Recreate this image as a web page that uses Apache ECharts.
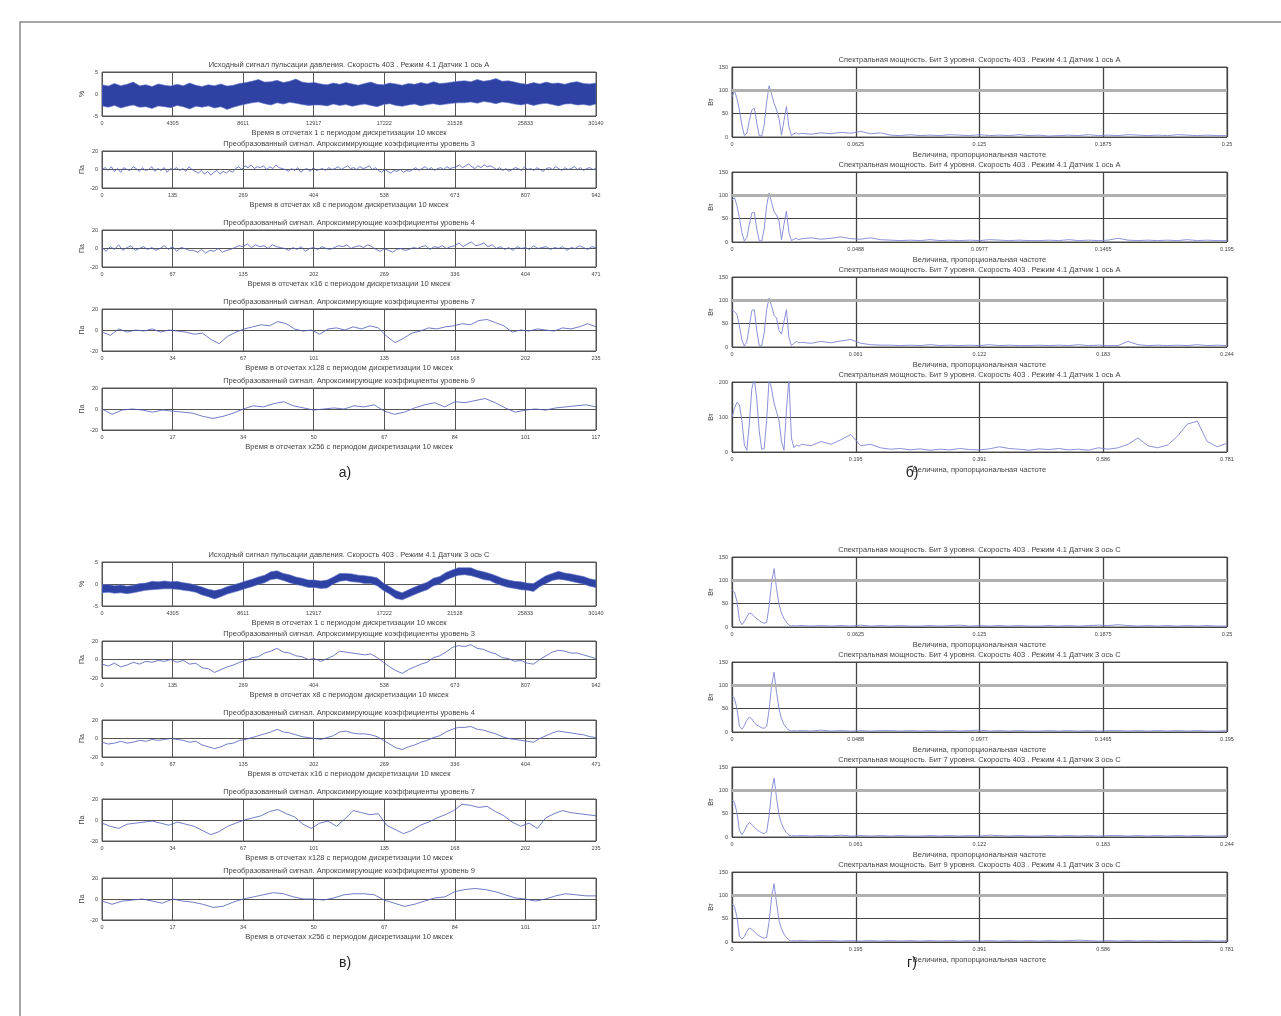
<!DOCTYPE html>
<html><head><meta charset="utf-8">
<script src="https://cdn.jsdelivr.net/npm/echarts@6/dist/echarts.min.js"></script>
<style>html,body{margin:0;padding:0;background:#fff}#c{width:1281px;height:1016px}</style>
</head><body><div id="c"></div>
<script>
// ---------- tick labels ----------
const ticksSignal = ['0','4305','8611','12917','17222','21528','25833','30140'];
const ticksLev3 = ['0','135','269','404','538','673','807','942'];
const ticksLev4 = ['0','67','135','202','269','336','404','471'];
const ticksLev7 = ['0','34','67','101','135','168','202','235'];
const ticksLev9 = ['0','17','34','50','67','84','101','117'];
const ticksSigY = ['-5','0','5'];
const ticksLevY = ['-20','0','20'];
const ticksSpec1 = ['0','0.0625','0.125','0.1875','0.25'];
const ticksSpec2 = ['0','0.0488','0.0977','0.1465','0.195'];
const ticksSpec3 = ['0','0.061','0.122','0.183','0.244'];
const ticksSpec4 = ['0','0.195','0.391','0.586','0.781'];
const ticksPowY = ['0','50','100','150'];
const ticksPowY4 = ['0','100','200'];

// ---------- texts ----------
const titlesA = [
 'Исходный сигнал пульсации давления. Скорость 403 . Режим 4.1 Датчик 1 ось А',
 'Преобразованный сигнал. Апроксимирующие коэффициенты уровень 3',
 'Преобразованный сигнал. Апроксимирующие коэффициенты уровень 4',
 'Преобразованный сигнал. Апроксимирующие коэффициенты уровень 7',
 'Преобразованный сигнал. Апроксимирующие коэффициенты уровень 9'];
const titlesV = [
 'Исходный сигнал пульсации давления. Скорость 403 . Режим 4.1 Датчик 3 ось С',
 'Преобразованный сигнал. Апроксимирующие коэффициенты уровень 3',
 'Преобразованный сигнал. Апроксимирующие коэффициенты уровень 4',
 'Преобразованный сигнал. Апроксимирующие коэффициенты уровень 7',
 'Преобразованный сигнал. Апроксимирующие коэффициенты уровень 9'];
const timeNames = [
 'Время в отсчетах 1 с периодом дискретизации 10 мксек',
 'Время в отсчетах х8 с периодом дискретизации 10 мксек',
 'Время в отсчетах х16 с периодом дискретизации 10 мксек',
 'Время в отсчетах х128 с периодом дискретизации 10 мксек',
 'Время в отсчетах х256 с периодом дискретизации 10 мксек'];
const titlesB = [
 'Спектральная мощность. Бит 3 уровня. Скорость 403 . Режим 4.1 Датчик 1 ось А',
 'Спектральная мощность. Бит 4 уровня. Скорость 403 . Режим 4.1 Датчик 1 ось А',
 'Спектральная мощность. Бит 7 уровня. Скорость 403 . Режим 4.1 Датчик 1 ось А',
 'Спектральная мощность. Бит 9 уровня. Скорость 403 . Режим 4.1 Датчик 1 ось А'];
const titlesG = [
 'Спектральная мощность. Бит 3 уровня. Скорость 403 . Режим 4.1 Датчик 3 ось С',
 'Спектральная мощность. Бит 4 уровня. Скорость 403 . Режим 4.1 Датчик 3 ось С',
 'Спектральная мощность. Бит 7 уровня. Скорость 403 . Режим 4.1 Датчик 3 ось С',
 'Спектральная мощность. Бит 9 уровня. Скорость 403 . Режим 4.1 Датчик 3 ось С'];
const freqName = 'Величина, пропорциональная частоте';
const panelLabels = ['а)','б)','в)','г)'];

// ---------- a) signals ----------
const a1Upper = [2.1,1.8,2.4,1.9,2.2,2.7,1.9,2.1,1.7,2.3,2.0,1.8,2.2,1.9,2.5,2.0,1.7,2.1,1.9,2.3,1.8,2.0,2.4,
 2.6,2.9,3.3,2.7,2.8,3.1,2.6,2.9,3.4,2.7,2.5,2.6,
 2.3,2.1,2.5,2.2,2.6,2.3,2.0,2.4,2.7,2.2,2.1,2.5,2.3,2.0,2.4,2.2,2.6,2.3,2.8,2.4,2.5,2.7,2.9,
 3.0,2.8,3.3,2.9,3.1,3.5,2.9,3.0,2.7,
 2.4,2.2,2.6,2.3,2.7,2.4,2.5,2.2,2.6,2.8,2.4,2.3,2.5];
const a1Lower = [-2.7,-3.0,-2.6,-3.2,-2.8,-2.5,-3.0,-2.9,-3.3,-2.7,-2.9,-3.1,-2.6,-2.9,-3.4,-2.8,-3.0,-2.7,-3.2,-2.9,-3.5,-3.0,-2.6,
 -2.3,-2.0,-1.8,-2.2,-2.5,-2.0,-2.3,-1.9,-2.1,-2.4,-2.6,-2.5,
 -2.5,-2.7,-2.3,-2.6,-2.4,-2.8,-2.5,-2.3,-2.6,-2.9,-2.4,-2.2,-2.6,-2.8,-2.5,-2.3,-2.7,-2.4,-2.2,-2.5,-2.3,-2.1,-2.0,
 -2.0,-1.8,-2.1,-1.7,-1.9,-2.2,-1.8,-2.0,-2.3,
 -2.5,-2.2,-2.6,-2.3,-2.1,-2.4,-2.7,-2.3,-2.2,-2.5,-2.4,-2.6,-2.3];
const a2 = [0,2,-1,3,-2,1,-3,2,0,-1,3,1,-2,2,-1,0,3,-2,1,-1,2,-3,1,0,2,-1,1,-2,3,0,
 -2,-4,-1,-5,-2,-6,-3,-1,-5,-2,-4,-1,-3,
 1,3,0,4,2,5,1,3,2,4,0,3,1,5,2,1,
 0,-2,1,-1,2,-3,0,1,-2,2,-1,0,1,-1,2,0,
 1,3,0,2,4,1,2,0,3,1,2,4,0,2,
 -1,-3,0,-2,-4,-1,-2,0,-3,-1,-2,
 0,2,-1,1,3,0,2,-1,1,2,0,3,1,2,
 3,5,2,4,6,3,1,4,2,5,3,4,2,
 0,2,-1,1,-2,0,2,1,-1,3,0,1,-1,2,0,-2,1,2,0,3,1,-1,2,0,1,3,0,2,-1,1,2,0,1];
const a3 = [1,-3,2,-1,4,-2,1,3,-2,0,2,-1,1,-2,0,3,-1,2,-3,1,0,-2,
 -2,-4,-1,-5,-2,-3,0,-4,-2,-1,
 1,3,2,5,1,4,2,3,0,4,2,1,
 0,-2,1,-1,2,-3,0,1,-1,2,0,-1,
 1,3,2,4,0,2,3,1,4,2,
 -1,-3,0,-2,-4,-1,0,-2,-1,
 1,0,2,3,-1,2,1,3,0,2,
 3,6,2,5,7,3,4,6,2,4,
 0,2,-1,1,-2,2,0,1,-1,3,0,1,2,-1,1,0,2,-2,1,0,3,1,-1,2,1];
const a4 = [-2,-5,1,-2,0,-1,1,-2,0,-1,-2,-4,-3,-9,-13,-6,-2,1,3,5,4,8,6,1,-1,0,-4,1,2,0,3,1,4,2,-6,-12,-8,-3,-1,2,1,3,4,6,5,9,10,7,4,-2,0,-1,1,0,-1,2,1,3,6,3];
const a5 = [0,-5,-1,0,-1,-3,-1,-2,-3,-4,-7,-9,-7,-4,0,3,2,5,7,3,1,-1,0,1,0,3,2,4,-2,-5,-3,1,4,6,2,7,6,8,10,6,1,-3,-1,0,-1,1,2,3,4,2];

// ---------- в) signals ----------
const v1Upper = [-0.2,-0.1,-0.4,-0.2,-0.5,-0.3,0.1,0.2,0.6,0.5,
 0.7,0.5,0.6,0.3,0.1,-0.3,-0.7,-1.2,-1.5,-1.2,
 -0.6,-0.2,0.2,0.7,1.1,1.6,2.0,2.8,3.0,2.4,
 2.1,1.6,1.3,0.9,0.9,0.7,0.9,1.6,2.4,2.4,
 2.3,2.0,1.9,1.7,1.4,0.2,-0.6,-1.5,-2.0,-1.3,
 -0.7,-0.1,0.4,1.3,1.7,2.6,3.2,3.7,3.7,3.7,
 3.1,2.8,2.4,1.9,1.3,0.9,0.6,0.5,0.2,0.1,
 1.0,1.9,2.4,2.9,2.5,2.3,2.0,1.7,1.2,0.9];
const v1Lower = [-2.0,-1.9,-2.1,-2.0,-2.2,-2.0,-1.7,-1.4,-1.3,-1.2,
 -1.1,-1.1,-1.2,-1.4,-1.6,-1.9,-2.5,-2.9,-3.4,-2.9,
 -2.3,-1.9,-1.5,-1.0,-0.6,-0.1,0.3,1.0,1.2,0.8,
 0.3,-0.1,-0.4,-0.8,-0.8,-1.0,-0.9,0.0,0.6,0.8,
 0.5,0.4,0.1,0.1,-0.4,-1.5,-2.3,-3.3,-3.6,-3.0,
 -2.4,-1.8,-1.3,-0.4,0.0,0.9,1.5,2.0,2.1,1.9,
 1.5,1.0,0.8,0.1,-0.4,-0.8,-1.0,-1.3,-1.4,-1.7,
 -0.6,0.1,0.8,1.1,0.9,0.6,0.3,0.0,-0.5,-0.8];
const v2 = [-5,-7,-4,-8,-6,-3,-5,-2,-3,-1,-2,0,-3,-1,-5,-4,-9,-10,-14,-11,-8,-6,-3,-1,2,3,7,9,12,8,7,4,3,0,1,-2,1,4,9,8,7,6,5,6,2,-3,-8,-12,-15,-11,-8,-5,-3,2,4,8,13,15,14,16,12,11,8,6,2,1,-2,-1,-4,-5,0,4,8,10,9,7,7,5,3,1];
const v3 = [-4,-6,-5,-3,-5,-4,-2,-3,-1,-2,-1,0,-1,-2,-4,-3,-7,-9,-11,-9,-6,-5,-2,-1,1,3,5,7,10,7,6,4,2,1,0,-1,1,3,7,8,6,5,5,4,2,-2,-6,-10,-12,-9,-7,-4,-2,1,3,7,10,12,12,13,10,9,7,5,2,0,-1,-2,-3,-4,0,3,6,8,7,6,5,4,2,1];
const v4 = [-3,-6,-8,-4,-3,-2,-1,-3,-5,-2,-4,-6,-10,-14,-11,-6,-3,0,2,4,8,10,6,3,-4,-8,-3,-1,-6,1,9,7,5,6,-5,-9,-13,-10,-5,-2,2,5,9,15,14,12,13,8,4,-2,-6,-3,-8,2,6,9,7,6,5,4];
const v5 = [-2,-5,-2,-1,0,-2,-4,0,-2,-3,-5,-8,-7,-3,0,2,4,6,5,2,0,0,-1,1,4,5,5,4,-1,-4,-7,-5,-2,1,2,7,9,10,9,7,4,1,0,-2,0,3,5,4,3,3];

// ---------- spectra (frequency as fraction of axis range) ----------
const specHeadFreq = [0,0.005,0.01,0.015,0.02,0.025,0.03,0.035,0.04,0.045,0.05,0.055,0.06,0.065,0.07,0.075,0.08,0.085,0.09,0.095,0.1,0.105,0.11,0.115,0.12,0.125,0.13,0.135];
const specTailFreq = [0.14,0.16,0.18,0.2,0.22,0.24,0.26,0.28,0.3,0.32,0.34,0.36,0.38,0.4,0.42,0.44,0.46,0.48,0.5,0.52,0.54,0.56,0.58,0.6,0.62,0.64,0.66,0.68,0.7,0.72,0.74,0.76,0.78,0.8,0.82,0.84,0.86,0.88,0.9,0.92,0.94,0.96,0.98,1.0];

const b1Head = [85,100,82,58,25,3,8,35,58,62,30,3,2,25,75,110,92,72,58,40,4,35,65,22,3,7,9,6];
const b1Tail = [8,6,9,7,10,8,12,7,9,4,3,5,3,4,3,5,4,3,5,3,4,3,5,3,4,2,3,4,3,5,3,4,3,5,4,3,4,3,5,4,3,4,3,3];
const b2Head = [90,95,78,52,20,2,10,38,62,64,28,3,2,28,78,105,85,65,58,45,5,38,66,20,3,6,8,5];
const b2Tail = [7,9,6,8,11,7,6,9,5,4,3,4,3,5,3,4,3,4,3,5,4,3,4,3,3,4,3,5,3,4,3,4,8,4,3,4,3,4,3,5,3,4,3,3];
const b3Head = [80,76,70,45,15,2,12,45,78,80,35,3,2,30,80,105,88,68,62,35,28,55,80,20,3,8,12,9];
const b3Tail = [10,8,12,9,13,16,8,5,4,4,3,4,3,5,3,4,3,4,3,5,3,4,3,3,4,3,4,3,5,3,4,3,3,12,5,3,4,3,4,3,5,3,4,3];
const b4Head = [100,125,142,135,90,20,5,80,180,210,150,60,8,10,90,210,180,140,115,90,30,5,120,210,40,12,20,16];
const b4Tail = [22,18,30,22,35,50,18,22,12,8,10,6,9,5,8,6,10,7,6,9,15,10,8,5,9,7,10,6,8,5,12,8,12,22,40,18,12,20,45,80,88,30,15,25];

const g1Head = [80,75,55,15,5,12,22,30,28,22,18,14,10,8,10,45,95,125,82,48,30,18,10,4,2,3,2,3];
const g1Tail = [3,2,3,2,3,2,4,2,3,2,3,2,2,3,2,3,4,2,3,2,3,2,3,2,2,3,2,3,2,3,4,3,5,3,2,3,2,3,2,3,2,3,2,2];
const g2Head = [78,72,50,12,6,14,25,32,28,20,15,12,9,8,12,48,100,128,85,50,28,16,9,4,2,3,2,3];
const g2Tail = [3,2,4,2,3,2,3,2,3,3,2,3,2,3,2,3,2,3,4,2,3,2,3,2,2,3,2,3,2,3,2,3,3,2,3,2,3,2,3,2,3,2,2,3];
const g3Head = [80,74,52,14,5,13,24,31,27,21,16,12,9,7,11,46,98,126,84,47,29,17,9,4,2,3,2,3];
const g3Tail = [3,2,3,2,4,2,3,2,3,2,3,2,2,3,2,3,2,3,2,4,3,2,3,2,2,3,2,3,2,3,2,3,3,2,3,2,3,2,3,2,3,2,2,3];
const g4Head = [82,76,54,13,6,12,23,30,27,22,17,13,10,8,10,44,96,125,83,46,28,17,10,4,2,3,2,3];
const g4Tail = [3,2,3,3,2,3,2,3,2,3,2,3,2,3,2,3,2,3,2,3,2,3,2,3,2,3,2,3,4,3,2,3,2,3,2,3,2,3,2,3,2,3,2,3];

// ---------- building ----------
const FONT = 'Liberation Sans, Arial, sans-serif';
const grids=[], xAxes=[], yAxes=[], series=[], graphics=[];
const TXT = '#444', GRIDC = '#555';

function addText(x,y,text,size,color){
  graphics.push({type:'text', x:x, y:y, silent:true, z:10,
    style:{text:text, fontSize:size, fontFamily:FONT, fill:color, align:'center', verticalAlign:'middle'}});
}
function addGrid(r){
  grids.push({left:r[0], top:r[1], width:r[2], height:r[3], show:true, borderColor:'#555', borderWidth:1, backgroundColor:'#fff'});
  return grids.length-1;
}
function timeSeries(vals){ return vals.map((v,i)=>[i*7/(vals.length-1), v]); }
function specSeries(head, tail){
  const out=[];
  head.forEach((v,i)=>{ if(i<specHeadFreq.length) out.push([specHeadFreq[i], v]); });
  tail.forEach((v,i)=>{ if(i<specTailFreq.length) out.push([specTailFreq[i], v]); });
  return out;
}

function timePlot(r, title, xname, yname, xt, yt, ymin, ymax, yint){
  const g = addGrid(r);
  xAxes.push({gridIndex:g, type:'value', min:0, max:7, interval:1,
    axisLine:{show:false}, axisTick:{show:false},
    axisLabel:{fontSize:5.5, color:TXT, margin:4, fontFamily:FONT, formatter:v=>xt[Math.round(v)], showMinLabel:true, showMaxLabel:true},
    splitLine:{show:true, lineStyle:{color:GRIDC, width:1}},
    name:xname, nameLocation:'middle', nameGap:13, nameTextStyle:{fontSize:7.5, color:TXT, fontFamily:FONT}});
  yAxes.push({gridIndex:g, type:'value', min:ymin, max:ymax, interval:yint,
    axisLine:{show:false}, axisTick:{show:false},
    axisLabel:{fontSize:5.5, color:TXT, margin:4, fontFamily:FONT, formatter:v=>yt[Math.round((v-ymin)/yint)]},
    splitLine:{show:true, lineStyle:{color:GRIDC, width:1}},
    name:yname, nameLocation:'middle', nameGap:16, nameRotate:90, nameTextStyle:{fontSize:7, color:TXT, fontFamily:FONT}});
  addText(r[0]+r[2]/2, r[1]-7, title, 7.5, TXT);
  return g;
}
function specPlot(r, title, xt, yt, ymax, yint){
  const g = addGrid(r);
  xAxes.push({gridIndex:g, type:'value', min:0, max:1, interval:0.25,
    axisLine:{show:false}, axisTick:{show:false},
    axisLabel:{fontSize:5.5, color:TXT, margin:4, fontFamily:FONT, formatter:v=>xt[Math.round(v*4)], showMinLabel:true, showMaxLabel:true},
    splitLine:{show:true, lineStyle:{color:'#444', width:1.3}},
    name:freqName, nameLocation:'middle', nameGap:14, nameTextStyle:{fontSize:7.5, color:TXT, fontFamily:FONT}});
  yAxes.push({gridIndex:g, type:'value', min:0, max:ymax, interval:yint,
    axisLine:{show:false}, axisTick:{show:false},
    axisLabel:{fontSize:5.5, color:TXT, margin:4, fontFamily:FONT, formatter:v=>yt[Math.round(v/yint)]},
    splitLine:{show:true, lineStyle:{color:'#444', width:1}},
    name:'Вт', nameLocation:'middle', nameGap:17, nameRotate:90, nameTextStyle:{fontSize:7, color:TXT, fontFamily:FONT}});
  addText(r[0]+r[2]/2, r[1]-7, title, 7.5, TXT);
  return g;
}
function lineS(g, data, color, width, extra){
  const s = {type:'line', xAxisIndex:g, yAxisIndex:g, data:data, symbol:'none', silent:true,
    lineStyle:{color:color, width:width}, clip:true, z:3};
  return Object.assign(s, extra||{});
}
// filled envelope band of the raw signal, drawn through the axis scales
function band(g, upper, lower){
  series.push({type:'custom', xAxisIndex:g, yAxisIndex:g, silent:true, z:3, clip:true,
    data:[[0,0]],
    renderItem:function(params, api){
      const pts=[];
      upper.forEach((u,i)=>pts.push(api.coord([i*7/(upper.length-1), u])));
      for(let i=lower.length-1;i>=0;i--) pts.push(api.coord([i*7/(lower.length-1), lower[i]]));
      return {type:'polygon', shape:{points:pts}, style:{fill:'#2e42a4', stroke:'#6474c8', lineWidth:0.6}};
    }});
}

// layout
const LX = 102, LW = 494, RX = 732, RW = 495;
const leftTops = [72,151,230,309,388], leftHs = [44,37,37,42,42];
const rightTops = [67,172,277,382], rightH = 70;
const OFF = 490;

function leftPanel(off, titles, up, lo, lines){
  const lvTicks = [ticksLev3, ticksLev4, ticksLev7, ticksLev9];
  const g0 = timePlot([LX, leftTops[0]+off, LW, leftHs[0]], titles[0], timeNames[0], '%', ticksSignal, ticksSigY, -5, 5, 5);
  band(g0, up, lo);
  for(let k=0;k<4;k++){
    const g = timePlot([LX, leftTops[k+1]+off, LW, leftHs[k+1]], titles[k+1], timeNames[k+1], 'Па', lvTicks[k], ticksLevY, -20, 20, 20);
    series.push(lineS(g, timeSeries(lines[k]), '#4f5bb8', 0.8));
  }
}
function rightPanel(off, titles, specs){
  const xts = [ticksSpec1, ticksSpec2, ticksSpec3, ticksSpec4];
  for(let k=0;k<4;k++){
    const big = specs[k].big;
    const g = specPlot([RX, rightTops[k]+off, RW, rightH], titles[k], xts[k], big?ticksPowY4:ticksPowY, big?200:150, big?100:50);
    const extra = big ? {} : {markLine:{silent:true, symbol:'none', label:{show:false}, animation:false,
      lineStyle:{color:'#b0b0b0', width:3, type:'solid'}, data:[{yAxis:100}]}};
    series.push(lineS(g, specSeries(specs[k].h, specs[k].t), '#7f84d4', 0.9, extra));
  }
}

leftPanel(0, titlesA, a1Upper, a1Lower, [a2,a3,a4,a5]);
leftPanel(OFF, titlesV, v1Upper, v1Lower, [v2,v3,v4,v5]);
rightPanel(0, titlesB, [{h:b1Head,t:b1Tail},{h:b2Head,t:b2Tail},{h:b3Head,t:b3Tail},{h:b4Head,t:b4Tail,big:true}]);
rightPanel(OFF, titlesG, [{h:g1Head,t:g1Tail},{h:g2Head,t:g2Tail},{h:g3Head,t:g3Tail},{h:g4Head,t:g4Tail}]);

// panel labels
addText(345, 473, panelLabels[0], 14, '#222');
addText(912, 473, panelLabels[1], 14, '#222');
addText(345, 963, panelLabels[2], 14, '#222');
addText(912, 963, panelLabels[3], 14, '#222');
// outer frame (top and left edges)
graphics.push({type:'polyline', silent:true, shape:{points:[[20,1016],[20,22],[1281,22]]}, style:{stroke:'#8a8a8a', lineWidth:1.5, fill:null}});

const chart = echarts.init(document.getElementById('c'), null, {renderer:'canvas'});
chart.setOption({
  animation:false,
  backgroundColor:'#fff',
  grid:grids, xAxis:xAxes, yAxis:yAxes, series:series,
  graphic:{elements:graphics}
});
</script></body></html>
